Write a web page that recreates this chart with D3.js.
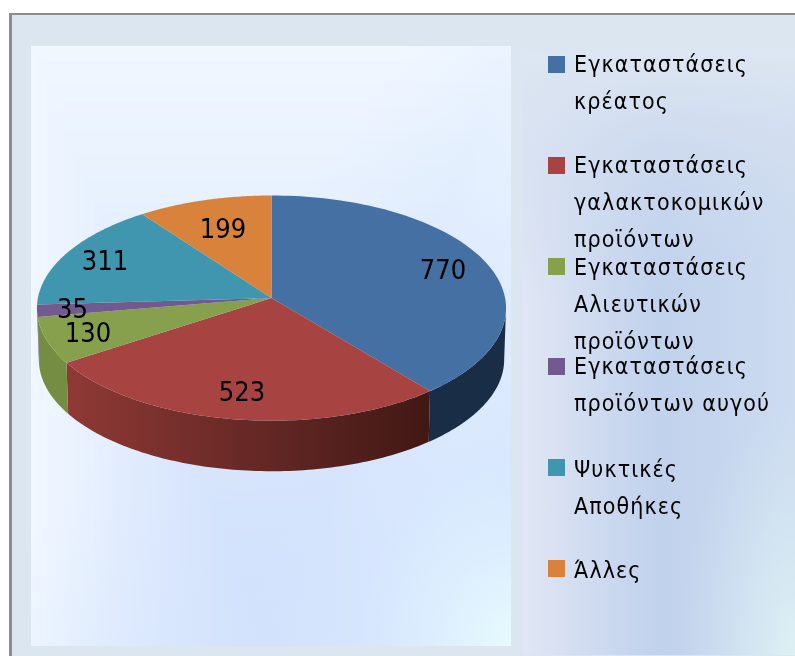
<!DOCTYPE html>
<html><head><meta charset="utf-8">
<script src="https://cdn.jsdelivr.net/npm/d3@7"></script>
<style>html,body{margin:0;padding:0;background:#fff}svg{display:block}text{font-family:"DejaVu Sans";fill:#000}</style>
</head><body><svg id="c" width="795" height="656"></svg>
<script>
const categories=["Εγκαταστάσεις κρέατος","Εγκαταστάσεις γαλακτοκομικών προϊόντων","Εγκαταστάσεις Αλιευτικών προϊόντων","Εγκαταστάσεις προϊόντων αυγού","Ψυκτικές Αποθήκες","Άλλες"];
const values=[770,523,130,35,311,199];
const colors=["#4470a3","#a74442","#87a04e","#735a8e","#3f96ae","#d9823c"];
const sideColors=["#1a2d47","#7a302d","#748d42","#5a4570","#2f7488","#a8642c"];
const legendLines=[["Εγκαταστάσεις","κρέατος"],["Εγκαταστάσεις","γαλακτοκομικών","προϊόντων"],["Εγκαταστάσεις","Αλιευτικών","προϊόντων"],["Εγκαταστάσεις","προϊόντων αυγού"],["Ψυκτικές","Αποθήκες"],["Άλλες"]];
const legendSwatchTops=[56,157,258,358,459,560];
const legendBaselines=[72,173,275,374,477,578];
const labelPos=[[443,279],[242,401],[88,342],[72.5,318],[105,270],[223,238]];

const svg=d3.select("#c"),defs=svg.append("defs");
function lin(id,x1,y1,x2,y2,stops){const g=defs.append("linearGradient").attr("id",id).attr("x1",x1).attr("y1",y1).attr("x2",x2).attr("y2",y2);
 stops.forEach(s=>g.append("stop").attr("offset",s[0]).attr("stop-color",s[1]).attr("stop-opacity",s[2]===undefined?1:s[2]));}
function rad(id,cx,cy,r,stops){const g=defs.append("radialGradient").attr("id",id).attr("cx",cx).attr("cy",cy).attr("r",r);
 stops.forEach(s=>g.append("stop").attr("offset",s[0]).attr("stop-color",s[1]).attr("stop-opacity",s[2]===undefined?1:s[2]));}
lin("plotRight",1,.78,.5,.3,[[0,"#d4e5fd",.95],[1,"#d4e5fd",0]]);
rad("plotCorner",1,1,.32,[[0,"#e6fbff",1],[1,"#e0f4ff",0]]);
lin("legBase",0,0,1,0,[[0,"#e1e7f5"],[.3,"#ccd9ef"],[.5,"#c1d2ed"],[.75,"#c6d6ee"],[1,"#cddcf0"]]);
lin("legTop",0,0,0,1,[[0,"#dde6f2",1],[.42,"#c8d6ed",0]]);
rad("legCorner",1,1,.42,[[0,"#dcf1f4",1],[1,"#d6e8f2",0]]);
lin("redSide",0,0,1,0,[[0,"#8f3935"],[.5,"#672926"],[1,"#411814"]]);

svg.append("rect").attr("x",10).attr("y",14).attr("width",800).attr("height",660).attr("fill","#dce6f1").attr("stroke","#8c8c8c").attr("stroke-width",2);
svg.append("rect").attr("x",9).attr("y",13).attr("width",3).attr("height",660).attr("fill","#8c8c8c");
// plot area: rectangular path gradient, focus at bottom centre
const P={x:31,y:46,w:480,h:600},focusX=271;
const ramp=d3.interpolateRgb("#cddcfb","#f0f7ff");
const bands=d3.range(1,0,-.02);
const bg=svg.append("g");
bands.forEach(t=>{
  bg.append("rect").attr("x",focusX-(focusX-P.x)*t).attr("y",P.y+P.h*(1-t)).attr("width",P.w*t).attr("height",P.h*t).attr("fill",ramp(t));
});
["plotRight","plotCorner"].forEach(i=>svg.append("rect").attr("x",P.x).attr("y",P.y).attr("width",P.w).attr("height",P.h).attr("fill",`url(#${i})`));
const L={x:523,y:51,w:272,h:604};
["legBase","legTop","legCorner"].forEach(i=>svg.append("rect").attr("x",L.x).attr("y",L.y).attr("width",L.w).attr("height",L.h).attr("fill",`url(#${i})`));

// perspective pie: d3.pie gives the angles, a homography lays them on the tilted plane
const apex={x:271.5,y:298},A=233.6,B=111.7,Pp=-0.0897,depth=51.5,shrink=.992;
const proj=(t,k=1,dy=0)=>{const u=Math.sin(t),v=-Math.cos(t),w=1+Pp*v;return [apex.x+k*A*u/w,apex.y+k*B*v/w+dy];};
const arcs=d3.pie().sort(null)(values);
const line=d3.line();
const samp=(a,b,k,dy)=>d3.range(0,1.0001,1/90).map(f=>proj(a+(b-a)*f,k,dy));
const rightExtreme=Math.PI/2+0.09, leftExtreme=2*Math.PI-rightExtreme;
const g=svg.append("g");
arcs.forEach((d,i)=>{
  const a=Math.max(d.startAngle,rightExtreme),b=Math.min(d.endAngle,leftExtreme);
  if(b<=a)return;
  const pts=samp(a,b,1,0).concat(samp(b,a,shrink,depth));
  g.append("path").attr("d",line(pts)+"Z").attr("fill",i===1?"url(#redSide)":sideColors[i]);
});
arcs.forEach((d,i)=>{
  const pts=[[apex.x,apex.y]].concat(samp(d.startAngle,d.endAngle,1,0));
  g.append("path").attr("d",line(pts)+"Z").attr("fill",colors[i]);
});
svg.append("filter").attr("id","soft").append("feGaussianBlur").attr("stdDeviation",.4);
svg.append("g").attr("filter","url(#soft)").selectAll("text").data(values).join("text")
 .attr("transform",(d,i)=>`translate(${labelPos[i][0]},${labelPos[i][1]}) scale(.9,1)`).attr("text-anchor","middle").attr("font-size",27).text(d=>d);
const lg=svg.append("g");
categories.forEach((c,i)=>{
  lg.append("rect").attr("x",548).attr("y",legendSwatchTops[i]).attr("width",17).attr("height",17).attr("fill",colors[i]);
});
const lt=svg.append("g").attr("filter","url(#soft)");
legendLines.forEach((ls,i)=>ls.forEach((s,j)=>{
  lt.append("text").attr("transform",`translate(574,${legendBaselines[i]+j*37}) scale(.9,1)`).attr("font-size",23).attr("letter-spacing",1.2).text(s);
}));
</script></body></html>
